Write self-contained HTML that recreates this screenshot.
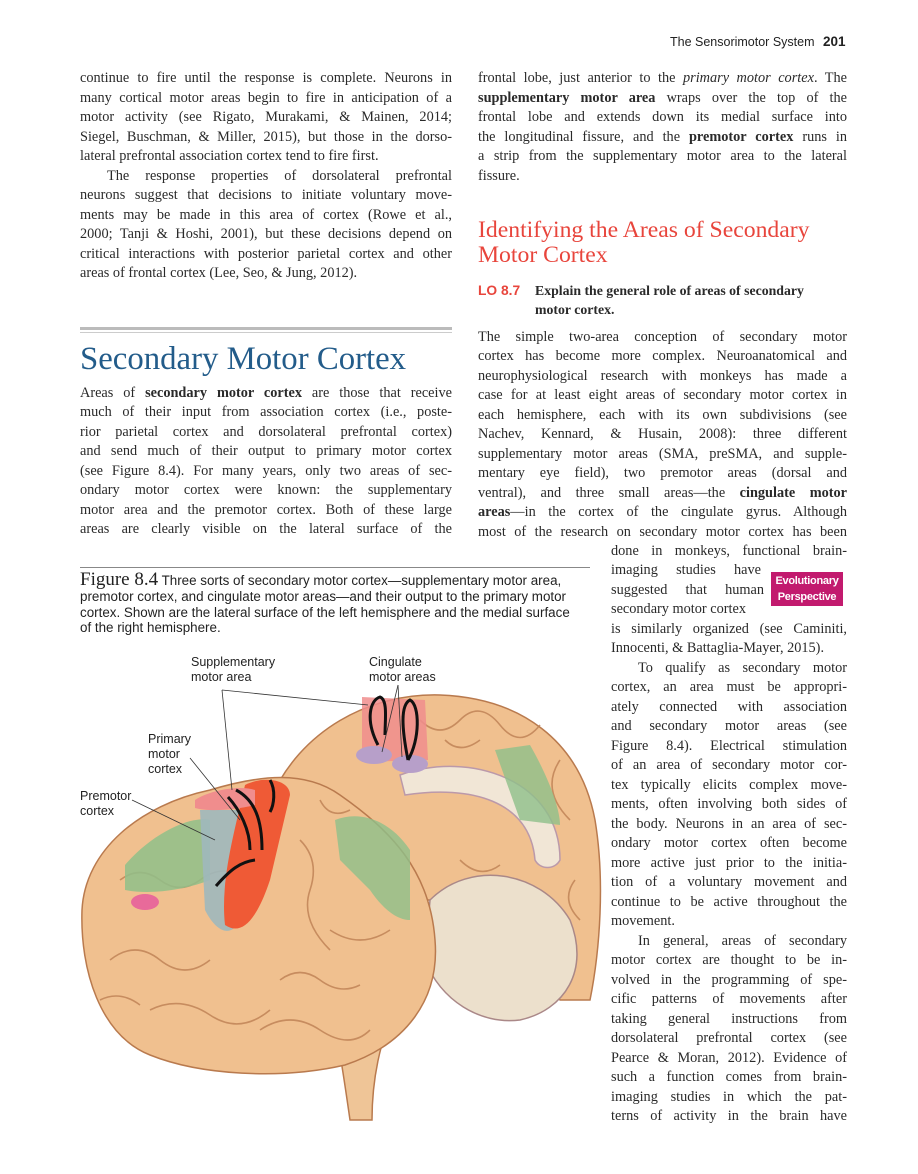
<!DOCTYPE html>
<html><head><meta charset="utf-8">
<style>
html,body{margin:0;padding:0;background:#fff}
#page{position:relative;width:918px;height:1174px;overflow:hidden;font-family:"Liberation Serif",serif;color:#2a2a2a}
.l{position:absolute;font-size:14.3px;line-height:16px;white-space:nowrap;text-align:justify;text-align-last:justify}
.ln{text-align-last:left}
.L{left:80px;width:372px}
.R{left:478px;width:369px}
.N{left:611px;width:236px}
b{font-weight:bold}
i{font-style:italic}
.sans{font-family:"Liberation Sans",sans-serif}
</style></head><body>
<div id="page">
<div class="sans" style="position:absolute;left:670px;top:34px;font-size:12.5px;color:#222">The Sensorimotor System <b style="font-size:13.5px;margin-left:5px">201</b></div>

<div>
<div class="l L" style="top:70px">continue to fire until the response is complete. Neurons in</div>
<div class="l L" style="top:90px">many cortical motor areas begin to fire in anticipation of a</div>
<div class="l L" style="top:109px">motor activity (see Rigato, Murakami, &amp; Mainen, 2014;</div>
<div class="l L" style="top:129px">Siegel, Buschman, &amp; Miller, 2015), but those in the dorso-</div>
<div class="l L ln" style="top:148px">lateral prefrontal association cortex tend to fire first.</div>
<div class="l L" style="top:168px;left:107px;width:345px">The response properties of dorsolateral prefrontal</div>
<div class="l L" style="top:187px">neurons suggest that decisions to initiate voluntary move-</div>
<div class="l L" style="top:207px">ments may be made in this area of cortex (Rowe et al.,</div>
<div class="l L" style="top:226px">2000; Tanji &amp; Hoshi, 2001), but these decisions depend on</div>
<div class="l L" style="top:246px">critical interactions with posterior parietal cortex and other</div>
<div class="l L ln" style="top:265px">areas of frontal cortex (Lee, Seo, &amp; Jung, 2012).</div>
</div>

<div style="position:absolute;left:80px;top:327px;width:372px;height:3px;background:#bbb"></div>
<div style="position:absolute;left:80px;top:332px;width:372px;height:1px;background:#ccc"></div>
<div style="position:absolute;left:80px;top:341px;font-size:32.8px;color:#235c8a;white-space:nowrap">Secondary Motor Cortex</div>

<div>
<div class="l L" style="top:385px">Areas of <b>secondary motor cortex</b> are those that receive</div>
<div class="l L" style="top:404px">much of their input from association cortex (i.e., poste-</div>
<div class="l L" style="top:424px">rior parietal cortex and dorsolateral prefrontal cortex)</div>
<div class="l L" style="top:443px">and send much of their output to primary motor cortex</div>
<div class="l L" style="top:463px">(see Figure 8.4). For many years, only two areas of sec-</div>
<div class="l L" style="top:482px">ondary motor cortex were known: the supplementary</div>
<div class="l L" style="top:502px">motor area and the premotor cortex. Both of these large</div>
<div class="l L" style="top:521px">areas are clearly visible on the lateral surface of the</div>
</div>

<div>
<div class="l R" style="top:70px">frontal lobe, just anterior to the <i>primary motor cortex</i>. The</div>
<div class="l R" style="top:90px"><b>supplementary motor area</b> wraps over the top of the</div>
<div class="l R" style="top:109px">frontal lobe and extends down its medial surface into</div>
<div class="l R" style="top:129px">the longitudinal fissure, and the <b>premotor cortex</b> runs in</div>
<div class="l R" style="top:148px">a strip from the supplementary motor area to the lateral</div>
<div class="l R ln" style="top:168px">fissure.</div>
</div>

<div style="position:absolute;left:478px;top:218px;font-size:23.7px;line-height:25px;color:#e8453c;white-space:nowrap">Identifying the Areas of Secondary<br>Motor Cortex</div>
<div style="position:absolute;left:478px;top:281px;font-size:13.8px;line-height:19px">
<span class="sans" style="color:#e8453c;font-weight:bold">LO 8.7</span>
<b style="position:absolute;left:57px;top:0;width:300px;white-space:nowrap">Explain the general role of areas of secondary<br>motor cortex.</b>
</div>

<div>
<div class="l R" style="top:329px">The simple two-area conception of secondary motor</div>
<div class="l R" style="top:348px">cortex has become more complex. Neuroanatomical and</div>
<div class="l R" style="top:368px">neurophysiological research with monkeys has made a</div>
<div class="l R" style="top:387px">case for at least eight areas of secondary motor cortex in</div>
<div class="l R" style="top:407px">each hemisphere, each with its own subdivisions (see</div>
<div class="l R" style="top:426px">Nachev, Kennard, &amp; Husain, 2008): three different</div>
<div class="l R" style="top:446px">supplementary motor areas (SMA, preSMA, and supple-</div>
<div class="l R" style="top:465px">mentary eye field), two premotor areas (dorsal and</div>
<div class="l R" style="top:485px">ventral), and three small areas—the <b>cingulate motor</b></div>
<div class="l R" style="top:504px"><b>areas</b>—in the cortex of the cingulate gyrus. Although</div>
<div class="l R" style="top:524px">most of the research on secondary motor cortex has been</div>
<div class="l N" style="top:543px">done in monkeys, functional brain-</div>
<div class="l N" style="top:562px;width:150px">imaging studies have</div>
<div class="l N" style="top:582px;width:153px">suggested that human</div>
<div class="l N ln" style="top:601px">secondary motor cortex</div>
<div class="l N" style="top:621px">is similarly organized (see Caminiti,</div>
<div class="l N ln" style="top:640px">Innocenti, &amp; Battaglia-Mayer, 2015).</div>
<div class="l N" style="top:660px;left:638px;width:209px">To qualify as secondary motor</div>
<div class="l N" style="top:679px">cortex, an area must be appropri-</div>
<div class="l N" style="top:699px">ately connected with association</div>
<div class="l N" style="top:718px">and secondary motor areas (see</div>
<div class="l N" style="top:738px">Figure 8.4). Electrical stimulation</div>
<div class="l N" style="top:757px">of an area of secondary motor cor-</div>
<div class="l N" style="top:777px">tex typically elicits complex move-</div>
<div class="l N" style="top:796px">ments, often involving both sides of</div>
<div class="l N" style="top:816px">the body. Neurons in an area of sec-</div>
<div class="l N" style="top:835px">ondary motor cortex often become</div>
<div class="l N" style="top:855px">more active just prior to the initia-</div>
<div class="l N" style="top:874px">tion of a voluntary movement and</div>
<div class="l N" style="top:894px">continue to be active throughout the</div>
<div class="l N ln" style="top:913px">movement.</div>
<div class="l N" style="top:933px;left:638px;width:209px">In general, areas of secondary</div>
<div class="l N" style="top:952px">motor cortex are thought to be in-</div>
<div class="l N" style="top:972px">volved in the programming of spe-</div>
<div class="l N" style="top:991px">cific patterns of movements after</div>
<div class="l N" style="top:1011px">taking general instructions from</div>
<div class="l N" style="top:1030px">dorsolateral prefrontal cortex (see</div>
<div class="l N" style="top:1050px">Pearce &amp; Moran, 2012). Evidence of</div>
<div class="l N" style="top:1069px">such a function comes from brain-</div>
<div class="l N" style="top:1089px">imaging studies in which the pat-</div>
<div class="l N" style="top:1108px">terns of activity in the brain have</div>
</div>

<div class="sans" style="position:absolute;left:771px;top:572px;width:72px;height:34px;background:#c21a6e;color:#fff;font-weight:bold;font-size:11px;line-height:16px;text-align:center;padding-top:1px;box-sizing:border-box;letter-spacing:-0.3px">Evolutionary<br>Perspective</div>

<div style="position:absolute;left:80px;top:567px;width:510px;height:1px;background:#888"></div>
<div class="sans" style="position:absolute;left:80px;top:572px;font-size:13.4px;line-height:15.8px;color:#222;white-space:nowrap"><span style="font-family:'Liberation Serif',serif;font-size:19px">Figure 8.4</span> Three sorts of secondary motor cortex—supplementary motor area,<br>premotor cortex, and cingulate motor areas—and their output to the primary motor<br>cortex. Shown are the lateral surface of the left hemisphere and the medial surface<br>of the right hemisphere.</div>

<svg style="position:absolute;left:0;top:0" width="918" height="1174">
<g stroke="#b97a4e" stroke-width="1.5">
 <path d="M270,800 C300,730 370,693 440,695 C520,698 580,740 595,820 C605,880 600,950 590,1000 L560,1000 C540,960 500,930 470,900 L300,900 Z" fill="#f0c08f"/>
 <path d="M430,900 C470,860 540,870 570,920 C590,970 565,1010 520,1020 C480,1025 440,1000 425,960 Z" fill="#ece0cc" stroke="#a88"/>
 <path d="M330,1000 C340,1050 345,1085 350,1120 L372,1120 C372,1080 380,1040 395,1010 Z" fill="#efc597"/>
 <path d="M82,910 C85,850 140,805 210,790 C260,775 305,770 340,795 C390,830 430,870 435,940 C440,1000 405,1045 345,1065 C280,1080 200,1075 150,1055 C100,1035 80,970 82,910 Z" fill="#f0c08f"/>
 <path d="M400,775 C470,750 560,780 560,860 C555,870 540,870 535,860 C530,800 470,785 405,795 Z" fill="#f1e6d6" stroke="#b9a"/>
</g>
<g fill="none" stroke="#c08457" stroke-width="1.6" opacity="0.85">
 <path d="M120,880 q20,-15 40,0 t40,0 t40,-5"/><path d="M110,960 q25,-20 50,0 t50,0"/><path d="M150,1010 q30,-15 60,5 t60,-5"/>
 <path d="M300,840 q20,20 10,50 t20,60"/><path d="M330,930 q30,20 60,0"/><path d="M260,1030 q30,-20 60,0 t50,0"/>
 <path d="M420,720 q20,20 40,0 t40,5 t40,0"/><path d="M560,760 q-20,30 10,60"/><path d="M460,860 q20,20 40,5"/>
 <path d="M100,1000 q20,-10 40,5"/><path d="M280,980 q20,-15 40,0 t40,5"/><path d="M320,800 q10,20 30,10"/>
 <path d="M445,740 q15,15 35,0"/><path d="M575,880 q-15,20 5,40"/>
</g>
<path d="M125,865 C150,835 190,815 210,820 L210,880 C185,890 150,895 125,890 Z" fill="#8fbf8a" opacity="0.85"/>
<path d="M200,810 L240,810 L240,920 C230,940 215,930 205,910 Z" fill="#9fb8bc" opacity="0.9"/>
<path d="M245,785 C265,775 290,780 290,795 L270,880 C255,925 240,935 225,925 C220,880 235,830 245,785 Z" fill="#ef5a36"/>
<path d="M195,800 C210,790 240,785 255,790 L255,805 C235,810 210,812 195,808 Z" fill="#f08d8d"/>
<ellipse cx="145" cy="902" rx="14" ry="8" fill="#e86a9a"/>
<path d="M362,697 L425,700 L428,760 L362,762 Z" fill="#f08d8d" opacity="0.85"/>
<ellipse cx="374" cy="755" rx="18" ry="9" fill="#b79fc9"/>
<ellipse cx="410" cy="764" rx="18" ry="9" fill="#b79fc9"/>
<path d="M495,750 L530,745 C550,780 560,810 560,825 L520,820 Z" fill="#8fbf8a" opacity="0.8"/>
<path d="M335,820 C360,810 390,820 410,850 L410,920 C395,920 380,905 370,890 L340,860 Z" fill="#8fbf8a" opacity="0.8"/>
<g fill="none" stroke="#111" stroke-width="3">
 <path d="M228,797 C240,810 250,830 250,850"/><path d="M236,790 C255,800 262,820 262,850"/>
 <path d="M270,780 C276,790 274,805 270,812"/><path d="M216,886 C230,870 240,862 255,860"/>
 <path d="M378,745 C365,720 370,700 380,697 C388,700 385,720 385,735"/>
 <path d="M408,760 C420,740 420,705 410,700 C400,705 402,730 408,760"/>
</g>
<g fill="none" stroke="#333" stroke-width="0.8">
 <line x1="222" y1="690" x2="232" y2="790"/><line x1="222" y1="690" x2="368" y2="705"/>
 <line x1="190" y1="758" x2="240" y2="820"/><line x1="132" y1="800" x2="215" y2="840"/>
 <line x1="398" y1="685" x2="382" y2="752"/><line x1="398" y1="685" x2="402" y2="757"/>
</g>
</svg>
<div class="sans" style="position:absolute;left:191px;top:655px;font-size:12.5px;line-height:15px;color:#222">Supplementary<br>motor area</div>
<div class="sans" style="position:absolute;left:369px;top:655px;font-size:12.5px;line-height:15px;color:#222">Cingulate<br>motor areas</div>
<div class="sans" style="position:absolute;left:148px;top:732px;font-size:12.5px;line-height:15px;color:#222">Primary<br>motor<br>cortex</div>
<div class="sans" style="position:absolute;left:80px;top:789px;font-size:12.5px;line-height:15px;color:#222">Premotor<br>cortex</div>
</div>
</body></html>
